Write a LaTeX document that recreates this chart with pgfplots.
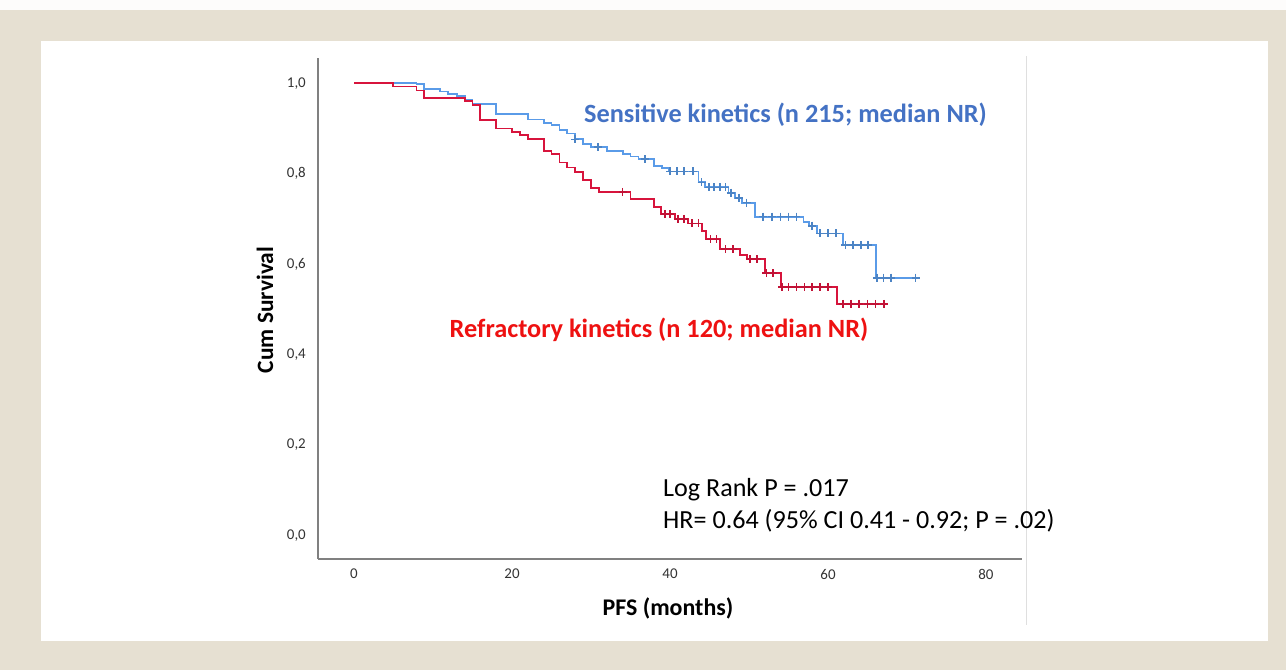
\documentclass[border=0pt]{standalone}
\usepackage{fontspec}
\setmainfont{Carlito}
\usepackage{pgfplots}
\pgfplotsset{compat=1.18}
\definecolor{beige}{HTML}{E6E0D2}
\definecolor{kmblue}{HTML}{5A9BE8}
\definecolor{kmred}{HTML}{D7143C}
\definecolor{txtblue}{HTML}{4472C4}
\definecolor{txtred}{HTML}{EE1111}
\definecolor{axgray}{HTML}{808080}
\begin{document}
\begin{tikzpicture}[x=1bp,y=1bp]
\useasboundingbox (0,0) rectangle (1286,670);
\fill[beige] (0,0) rectangle (1286,670);
\fill[white!92!beige] (0,660) rectangle (1286,670);
\fill[white] (41,29) rectangle (1268,629);
\draw[gray!25, line width=1bp] (1026,45) -- (1026,614);
\begin{axis}[
  at={(318bp,111bp)}, anchor=south west,
  scale only axis, width=704bp, height=501bp,
  xmin=-4.56, xmax=84.56, ymin=-0.052, ymax=1.056,
  axis x line*=bottom, axis y line*=left,
  axis line style={axgray, line width=1.2bp, -},
  major tick length=0pt,
  xtick={0,20,40,60,80}, xticklabels={0,20,40,60,80},
  ytick={0,0.2,0.4,0.6,0.8,1.0},
  yticklabels={{0,0},{0,2},{0,4},{0,6},{0,8},{1,0}},
  /pgf/number format/assume math mode=true,
  tick label style={font=\fontsize{15}{15}\selectfont, text=black!80, inner sep=0pt},
  yticklabel style={xshift=-12bp},
  xticklabel style={yshift=-10bp},
  clip=false,
]
% Sensitive kinetics
\addplot[const plot, kmblue, line width=1.8bp] coordinates {
(0,1.0) (7.9,0.998) (8.9,0.987) (10.9,0.982) (11.9,0.976) (13,0.972) (14,0.963) (15,0.955) (18,0.933) (22,0.920) (24,0.913) (25,0.908) (26,0.896) (27,0.889) (28,0.876) (29,0.866) (30,0.859) (32,0.851) (34,0.844) (35,0.838) (36,0.832) (38,0.818) (39,0.812) (39.8,0.805) (43.6,0.781) (44.4,0.770) (47.4,0.758) (48.2,0.747) (49.1,0.736) (50.8,0.705) (56.9,0.694) (57.6,0.685) (58.6,0.668) (61.9,0.642) (66.1,0.570) (71.4,0.570)
};
\addplot[only marks, mark=+, mark size=4bp, kmblue!85!black, mark options={line width=1.6bp}] coordinates {
(28.0,0.876) (30.9,0.859) (36.8,0.832) (40,0.805) (40.9,0.805) (41.8,0.805) (42.9,0.805) (44.0,0.781) (44.9,0.770) (45.6,0.770) (46.3,0.770) (47.0,0.770) (47.7,0.758) (48.7,0.747) (49.7,0.736) (51.8,0.705) (52.9,0.705) (54.0,0.705) (55.0,0.705) (56.0,0.705) (58.0,0.685) (59.0,0.668) (60.0,0.668) (61.0,0.668) (62.2,0.642) (63.2,0.642) (64.2,0.642) (65.1,0.642) (66.2,0.570) (67.0,0.570) (68.0,0.570) (71.1,0.570)
};
% Refractory kinetics
\addplot[const plot, kmred, line width=1.8bp] coordinates {
(0,1.0) (4.9,0.993) (7.9,0.984) (8.9,0.967) (14,0.960) (15,0.952) (15.9,0.919) (18,0.900) (20,0.892) (21,0.885) (22,0.876) (24,0.850) (25,0.843) (26,0.825) (27,0.814) (28,0.803) (29,0.786) (30,0.769) (31,0.760) (35,0.744) (38,0.727) (38.9,0.711) (40.6,0.700) (42.3,0.690) (44.0,0.674) (44.6,0.655) (46.3,0.633) (48.9,0.620) (49.7,0.611) (52.0,0.580) (54.1,0.549) (61.1,0.512) (67.4,0.512)
};
\addplot[only marks, mark=+, mark size=4bp, kmred!90!black, mark options={line width=1.6bp}] coordinates {
(34,0.760) (39.4,0.711) (40.0,0.711) (41.0,0.700) (41.8,0.700) (42.8,0.690) (43.6,0.690) (45.1,0.655) (45.9,0.655) (47.0,0.633) (48.0,0.633) (50.1,0.611) (51.0,0.611) (52.2,0.580) (53.0,0.580) (54.2,0.549) (55.0,0.549) (56.0,0.549) (57.0,0.549) (58.0,0.549) (59.0,0.549) (60.0,0.549) (61.9,0.512) (62.9,0.512) (63.9,0.512) (65.0,0.512) (66.0,0.512) (67.1,0.512)
};
\end{axis}
\node[text=txtblue, font=\fontsize{26.4}{26.4}\selectfont\bfseries] at (785.5,555) {Sensitive kinetics (n 215; median NR)};
\node[text=txtred, font=\fontsize{26.4}{26.4}\selectfont\bfseries] at (659,340) {Refractory kinetics (n 120; median NR)};
\node[anchor=west, inner sep=0pt, font=\fontsize{26.2}{26.2}\selectfont] at (663,180) {Log Rank P = .017};
\node[anchor=west, inner sep=0pt, font=\fontsize{26.2}{26.2}\selectfont] at (663,149) {HR= 0.64 (95\% CI 0.41 - 0.92; P = .02)};
\node[rotate=90, font=\fontsize{23.5}{23.5}\selectfont\bfseries] at (265,360) {Cum Survival};
\node[font=\fontsize{24}{24}\selectfont\bfseries] at (668,62) {PFS (months)};
\end{tikzpicture}
\end{document}
